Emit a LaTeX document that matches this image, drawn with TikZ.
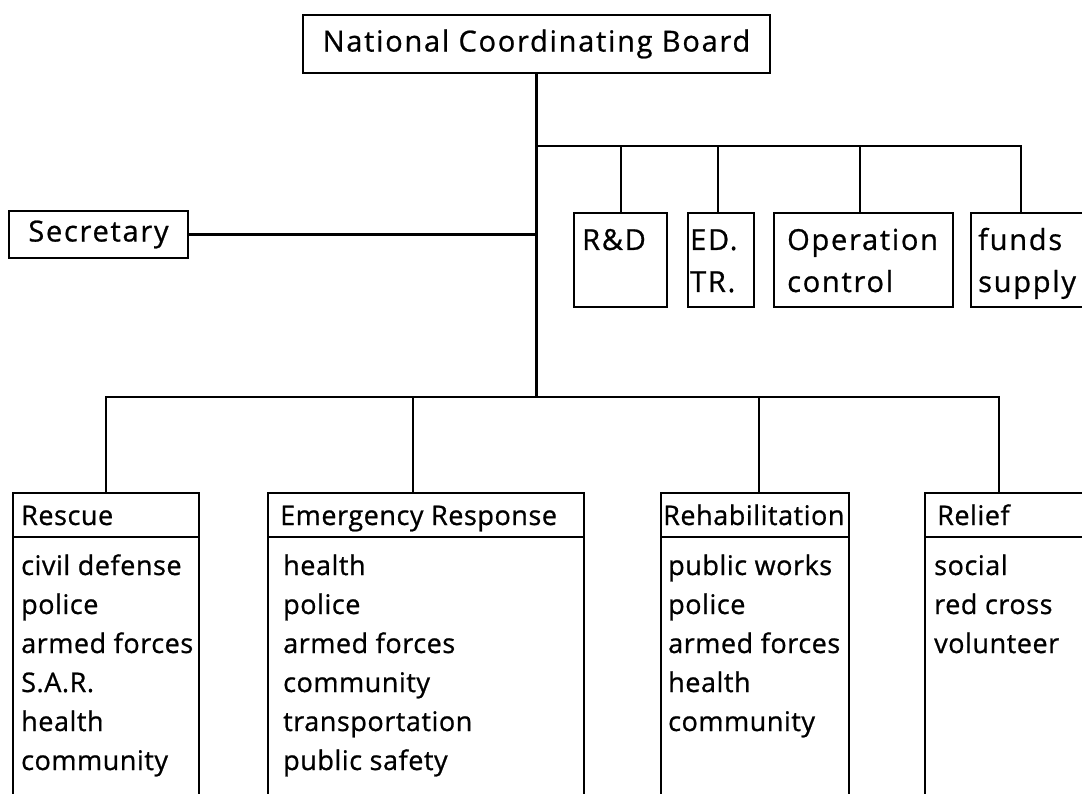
\documentclass[tikz,border=0pt]{standalone}
\usepackage{fontspec}
\setmainfont{Open Sans}
% upper tier is set a little larger than the divisions
\newfontfamily\topfont[LetterSpace=6,FakeBold=0.8]{Open Sans}
\newfontfamily\lowfont[LetterSpace=2,FakeBold=0.8]{Open Sans}
\begin{document}
\begin{tikzpicture}[x=1pt,y=-1pt,
  frame/.style={draw, line width=2.4pt, anchor=north west, inner sep=0pt},
  topbox/.style={draw, line width=2.4pt, inner sep=0pt,
    font=\topfont\fontsize{29}{34}\selectfont},
  toptxt/.style={anchor=base west, inner sep=0pt,
    font=\topfont\fontsize{29}{34}\selectfont},
  lowtxt/.style={anchor=base west, inner sep=0pt,
    font=\lowfont\fontsize{27}{32}\selectfont},
  link/.style={line width=2.4pt}]
\useasboundingbox (0,0) rectangle (1082,794);
\clip (0,0) rectangle (1082,794);

% ---- board and secretary ----
\node[topbox, minimum width=467pt, minimum height=58pt] (ncb) at (536.5,44)
  {National Coordinating Board};
\node[topbox, minimum width=179pt, minimum height=47pt] (sec) at (98.5,234.5)
  {Secretary};

% ---- staff units ----
\node[frame, minimum width=93pt,  minimum height=94pt] (rd) at (573,212) {};
\node[frame, minimum width=66pt,  minimum height=94pt] (ed) at (687,212) {};
\node[frame, minimum width=179pt, minimum height=94pt] (op) at (773,212) {};
\node[frame, minimum width=300pt, minimum height=94pt] (fd) at (970,212) {};

\node[toptxt] (rdA) at (582,250) {R\&D};
\node[toptxt] (edA) at (690,250) {ED.};
\node[toptxt] (edB) at (690,292) {TR.};
\node[toptxt] (opA) at (787,250) {Operation};
\node[toptxt] (opB) at (787,292) {control};
\node[toptxt] (fdA) at (978,250) {funds};
\node[toptxt] (fdB) at (978,292) {supply};

% ---- operational divisions: title bar + member list ----
\node[frame, minimum width=186pt, minimum height=44pt]  (resH) at (12,492) {};
\node[frame, minimum width=186pt, minimum height=400pt] (resB) at (12,536) {};
\node[frame, minimum width=316pt, minimum height=44pt]  (emH) at (267,492) {};
\node[frame, minimum width=316pt, minimum height=400pt] (emB) at (267,536) {};
\node[frame, minimum width=188pt, minimum height=44pt]  (rhH) at (660,492) {};
\node[frame, minimum width=188pt, minimum height=400pt] (rhB) at (660,536) {};
\node[frame, minimum width=300pt, minimum height=44pt]  (rlH) at (924,492) {};
\node[frame, minimum width=300pt, minimum height=400pt] (rlB) at (924,536) {};

\node[lowtxt] (resT) at (21,525)  {Rescue};
\node[lowtxt] (emT)  at (280,525) {Emergency Response};
\node[lowtxt] (rhT)  at (663,525) {Rehabilitation};
\node[lowtxt] (rlT)  at (937,525) {Relief};

\foreach \t [count=\i] in {civil defense, police, armed forces, S.A.R., health, community}
  \node[lowtxt] (res-\i) at (21,{575+39*(\i-1)}) {\t};
\foreach \t [count=\i] in {health, police, armed forces, community, transportation, public safety}
  \node[lowtxt] (em-\i) at (283,{575+39*(\i-1)}) {\t};
\foreach \t [count=\i] in {public works, police, armed forces, health, community}
  \node[lowtxt] (rh-\i) at (668,{575+39*(\i-1)}) {\t};
\foreach \t [count=\i] in {social, red cross, volunteer}
  \node[lowtxt] (rl-\i) at (934,{575+39*(\i-1)}) {\t};

% ---- connectors ----
\path (ncb.south) ++(0,72) coordinate (hubUp);
\path (ncb.south) ++(0,323) coordinate (hubLow);

\draw[link] (ncb.south) -- (hubLow);
\draw[link] (sec.east) -- (sec.east -| hubUp);

\draw[link] (hubUp) -| (rd.north);
\draw[link] (hubUp) -| ([xshift=-3pt]ed.north);
\draw[link] (hubUp) -| ([xshift=-4pt]op.north);
\draw[link] (hubUp) -| ([xshift=51pt]fd.north west);

\draw[link] (hubLow) -| (resH.north);
\draw[link] (hubLow) -| ([xshift=146pt]emH.north west);
\draw[link] (hubLow) -| ([xshift=4pt]rhH.north);
\draw[link] (hubLow) -| ([xshift=75pt]rlH.north west);
\end{tikzpicture}
\end{document}
